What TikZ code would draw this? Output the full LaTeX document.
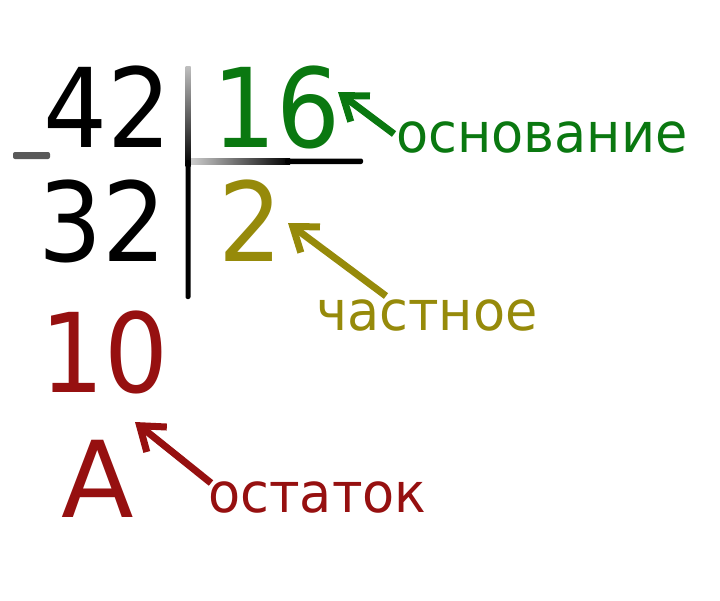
\documentclass[tikz,border=0pt]{standalone}
\usepackage{fontspec}
\setmainfont{DejaVu Sans}
\newfontfamily\numfont[FakeStretch=0.915]{DejaVu Sans}
\newfontfamily\labfont[FakeStretch=0.955]{DejaVu Sans}
\usetikzlibrary{arrows.meta}
\definecolor{cgreen}{RGB}{10,120,16}
\definecolor{colive}{RGB}{150,138,10}
\definecolor{cred}{RGB}{150,16,16}
\begin{document}
\begin{tikzpicture}[x=1pt,y=-1pt,
  big/.style={anchor=base west,inner sep=0pt,font=\numfont\fontsize{110}{110}\selectfont},
  lab/.style={anchor=base west,inner sep=0pt,font=\labfont\fontsize{55}{55}\selectfont},
  arr/.style={line width=7pt,-{Straight Barb[length=22pt,width=32pt]}}]
\useasboundingbox[fill=white] (0,0) rectangle (720,600);
% numbers
\node[big] (n42) at (43,147) {42};
\node[big,text=cgreen] (n16) at (212.5,147) {16};
\node[big] (n32) at (38,261) {32};
\node[big,text=colive] (n2) at (218,261) {2};
\node[big,text=cred] (n10) at (40,392) {10};
\node[anchor=base west,inner sep=0pt,font=\fontsize{106}{106}\selectfont,text=cred] (nA) at (61,517) {A};
% labels
\node[lab,text=cgreen] (osn) at (396,152) {основание};
\node[lab,text=colive] (chast) at (316,330) {частное};
\node[lab,text=cred] (ost) at (208,512) {остаток};
% minus sign
\fill[black!65,rounded corners=2pt] (13,152) rectangle (50,159);
% division bars
\shade[top color=black!25,bottom color=black] (185.5,66) rectangle (190.5,166);
\fill[black,rounded corners=2pt] (185.5,160) rectangle (190.5,299);
\shade[left color=black!20,right color=black] (191,158.5) rectangle (290,164);
\fill[black,rounded corners=2pt] (285,158.5) rectangle (363,164);
% arrows
\coordinate (g1) at (394,134); \coordinate (g2) at (338,92);
\coordinate (o1) at (386,296); \coordinate (o2) at (288,223);
\coordinate (r1) at (211,483); \coordinate (r2) at (135,422);
\draw[arr,cgreen] (g1) -- (g2);
\draw[arr,colive] (o1) -- (o2);
\draw[arr,cred] (r1) -- (r2);
\end{tikzpicture}
\end{document}
